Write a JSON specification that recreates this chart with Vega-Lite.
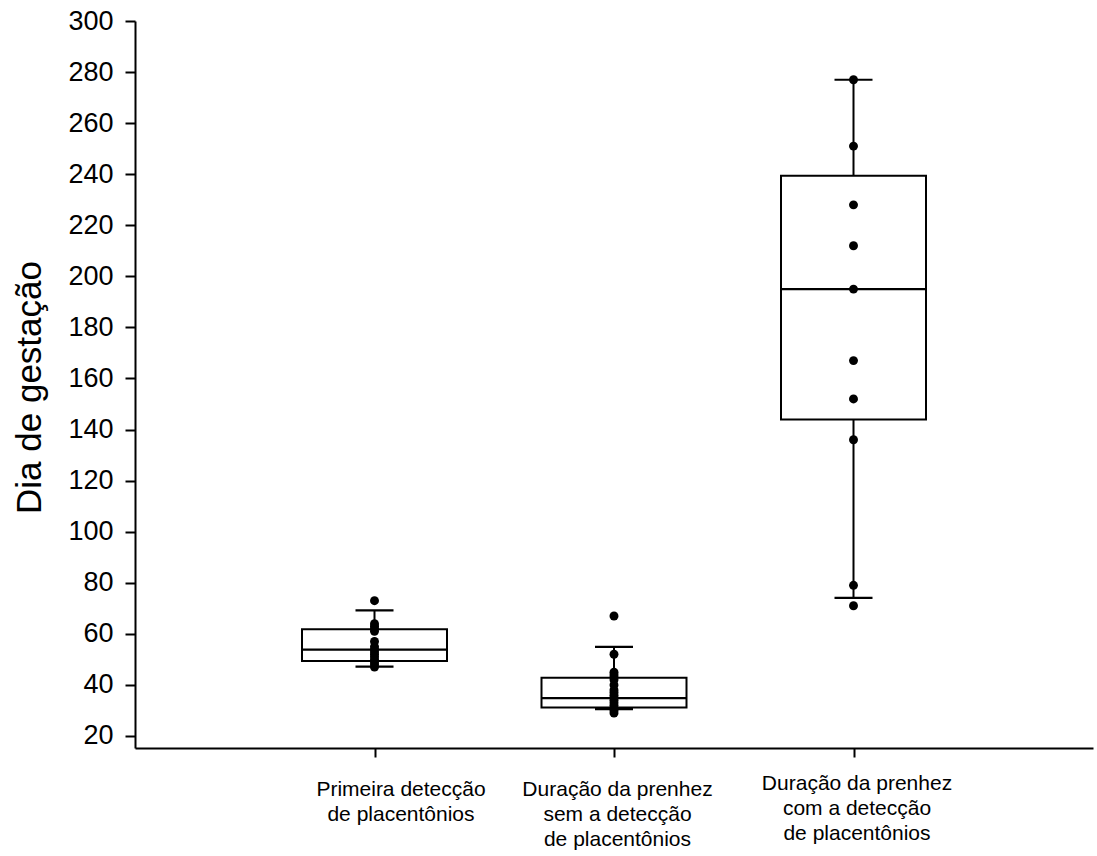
{
  "$schema": "https://vega.github.io/schema/vega-lite/v6.json",
  "width": 958,
  "height": 727,
  "autosize": {"type": "none"},
  "padding": {"left": 135, "top": 21, "right": 4, "bottom": 108},
  "background": "white",
  "config": {
    "view": {"stroke": null},
    "font": "Liberation Sans"
  },
  "datasets": {
    "boxes": [
      {"grupo": "Primeira detecção\nde placentônios", "minimo": 47.2, "q1": 49.4, "mediana": 53.8, "q3": 61.8, "maximo": 69.2},
      {"grupo": "Duração da prenhez\nsem a detecção\nde placentônios", "minimo": 30.5, "q1": 31.2, "mediana": 34.8, "q3": 42.8, "maximo": 54.9},
      {"grupo": "Duração da prenhez\ncom a detecção\nde placentônios", "minimo": 74.1, "q1": 143.9, "mediana": 195, "q3": 239.4, "maximo": 277}
    ],
    "pontos": [
      {"grupo": "Primeira detecção\nde placentônios", "dia": 73},
      {"grupo": "Primeira detecção\nde placentônios", "dia": 64},
      {"grupo": "Primeira detecção\nde placentônios", "dia": 63},
      {"grupo": "Primeira detecção\nde placentônios", "dia": 62},
      {"grupo": "Primeira detecção\nde placentônios", "dia": 61},
      {"grupo": "Primeira detecção\nde placentônios", "dia": 57},
      {"grupo": "Primeira detecção\nde placentônios", "dia": 55},
      {"grupo": "Primeira detecção\nde placentônios", "dia": 54},
      {"grupo": "Primeira detecção\nde placentônios", "dia": 53},
      {"grupo": "Primeira detecção\nde placentônios", "dia": 52},
      {"grupo": "Primeira detecção\nde placentônios", "dia": 51},
      {"grupo": "Primeira detecção\nde placentônios", "dia": 50},
      {"grupo": "Primeira detecção\nde placentônios", "dia": 49},
      {"grupo": "Primeira detecção\nde placentônios", "dia": 48},
      {"grupo": "Primeira detecção\nde placentônios", "dia": 47},
      {"grupo": "Duração da prenhez\nsem a detecção\nde placentônios", "dia": 67},
      {"grupo": "Duração da prenhez\nsem a detecção\nde placentônios", "dia": 52},
      {"grupo": "Duração da prenhez\nsem a detecção\nde placentônios", "dia": 45},
      {"grupo": "Duração da prenhez\nsem a detecção\nde placentônios", "dia": 44},
      {"grupo": "Duração da prenhez\nsem a detecção\nde placentônios", "dia": 43},
      {"grupo": "Duração da prenhez\nsem a detecção\nde placentônios", "dia": 42},
      {"grupo": "Duração da prenhez\nsem a detecção\nde placentônios", "dia": 40},
      {"grupo": "Duração da prenhez\nsem a detecção\nde placentônios", "dia": 38},
      {"grupo": "Duração da prenhez\nsem a detecção\nde placentônios", "dia": 37},
      {"grupo": "Duração da prenhez\nsem a detecção\nde placentônios", "dia": 36},
      {"grupo": "Duração da prenhez\nsem a detecção\nde placentônios", "dia": 35},
      {"grupo": "Duração da prenhez\nsem a detecção\nde placentônios", "dia": 34},
      {"grupo": "Duração da prenhez\nsem a detecção\nde placentônios", "dia": 33},
      {"grupo": "Duração da prenhez\nsem a detecção\nde placentônios", "dia": 32},
      {"grupo": "Duração da prenhez\nsem a detecção\nde placentônios", "dia": 31},
      {"grupo": "Duração da prenhez\nsem a detecção\nde placentônios", "dia": 30},
      {"grupo": "Duração da prenhez\nsem a detecção\nde placentônios", "dia": 29},
      {"grupo": "Duração da prenhez\ncom a detecção\nde placentônios", "dia": 277},
      {"grupo": "Duração da prenhez\ncom a detecção\nde placentônios", "dia": 251},
      {"grupo": "Duração da prenhez\ncom a detecção\nde placentônios", "dia": 228},
      {"grupo": "Duração da prenhez\ncom a detecção\nde placentônios", "dia": 212},
      {"grupo": "Duração da prenhez\ncom a detecção\nde placentônios", "dia": 195},
      {"grupo": "Duração da prenhez\ncom a detecção\nde placentônios", "dia": 167},
      {"grupo": "Duração da prenhez\ncom a detecção\nde placentônios", "dia": 152},
      {"grupo": "Duração da prenhez\ncom a detecção\nde placentônios", "dia": 136},
      {"grupo": "Duração da prenhez\ncom a detecção\nde placentônios", "dia": 79},
      {"grupo": "Duração da prenhez\ncom a detecção\nde placentônios", "dia": 71}
    ]
  },
  "encoding": {
    "x": {
      "field": "grupo",
      "type": "nominal",
      "sort": null,
      "scale": {"type": "point", "padding": 1, "domain": ["Primeira detecção\nde placentônios", "Duração da prenhez\nsem a detecção\nde placentônios", "Duração da prenhez\ncom a detecção\nde placentônios"]},
      "axis": {
        "title": null,
        "labelAngle": 0,
        "labelExpr": "split(datum.label, '\\n')",
        "labelLimit": 0,
        "labelFontSize": 21,
        "labelLineHeight": 25,
        "labelColor": "black",
        "labelBaseline": "top",
        "labelPadding": {"condition": {"test": "indexof(datum.label, 'com a') >= 0", "value": 15}, "value": 21},
        "labelOffset": {"condition": {"test": "indexof(datum.label, 'Primeira') >= 0", "value": 26}, "value": 3},
        "tickSize": 9,
        "tickWidth": 2,
        "tickColor": "black",
        "domainColor": "black",
        "domainWidth": 2,
        "grid": false
      }
    }
  },
  "layer": [
    {
      "data": {"name": "boxes"},
      "mark": {"type": "rule", "color": "black", "strokeWidth": 2},
      "encoding": {
        "y": {
          "field": "minimo",
          "type": "quantitative",
          "scale": {"domain": [15.3, 300], "nice": false, "zero": false},
          "axis": {
            "title": "Dia de gestação",
            "titleFontSize": 35,
            "titleFontWeight": "normal",
            "titleColor": "black",
            "titleX": -88,
            "titleY": 366,
            "values": [20, 40, 60, 80, 100, 120, 140, 160, 180, 200, 220, 240, 260, 280, 300],
            "labelFontSize": 27,
            "labelColor": "black",
            "labelPadding": 12,
            "tickSize": 10,
            "tickWidth": 2,
            "tickColor": "black",
            "domainColor": "black",
            "domainWidth": 2,
            "grid": false
          }
        },
        "y2": {"field": "maximo"}
      }
    },
    {
      "data": {"name": "boxes"},
      "mark": {"type": "bar", "width": 145, "fill": "white", "stroke": "black", "strokeWidth": 2},
      "encoding": {
        "y": {"field": "q1", "type": "quantitative"},
        "y2": {"field": "q3"}
      }
    },
    {
      "data": {"name": "boxes"},
      "mark": {"type": "tick", "color": "black", "opacity": 1, "size": 145, "thickness": 2.2},
      "encoding": {
        "y": {"field": "mediana", "type": "quantitative"}
      }
    },
    {
      "data": {"name": "boxes"},
      "mark": {"type": "tick", "color": "black", "opacity": 1, "size": 38, "thickness": 2.2},
      "encoding": {
        "y": {"field": "minimo", "type": "quantitative"}
      }
    },
    {
      "data": {"name": "boxes"},
      "mark": {"type": "tick", "color": "black", "opacity": 1, "size": 38, "thickness": 2.2},
      "encoding": {
        "y": {"field": "maximo", "type": "quantitative"}
      }
    },
    {
      "data": {"name": "pontos"},
      "mark": {"type": "circle", "color": "black", "opacity": 1, "size": 80},
      "encoding": {
        "y": {"field": "dia", "type": "quantitative"}
      }
    }
  ]
}
